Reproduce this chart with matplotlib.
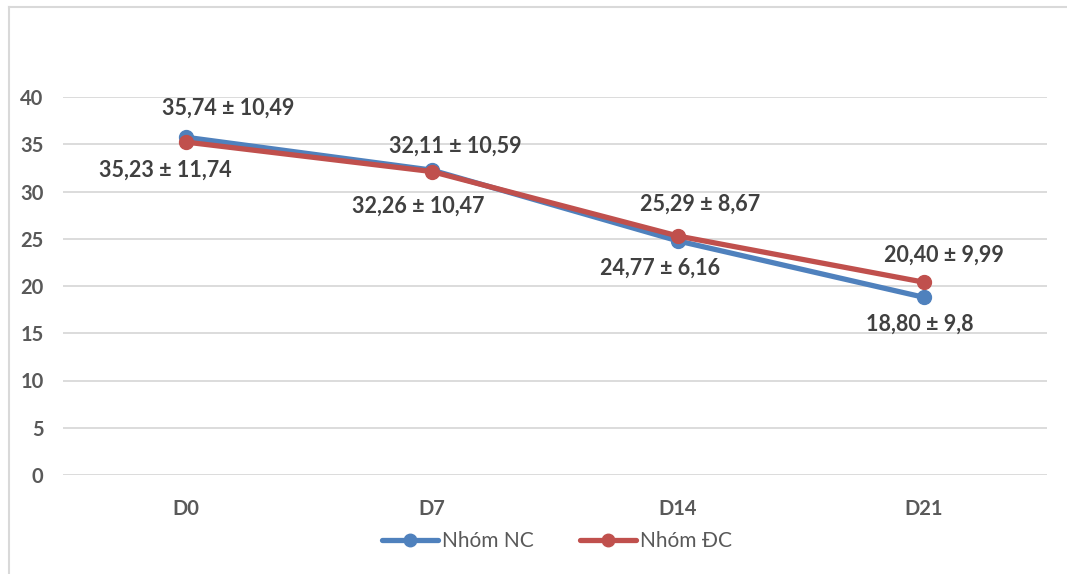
import matplotlib
matplotlib.use("Agg")
import matplotlib.pyplot as plt
from matplotlib.lines import Line2D

# Data
days = ["D0", "D7", "D14", "D21"]
nc_mean = [35.74, 32.26, 24.77, 18.80]
nc_sd = [10.49, 10.47, 6.16, 9.8]
dc_mean = [35.23, 32.11, 25.29, 20.40]
dc_sd = [11.74, 10.59, 8.67, 9.99]
series_names = ["Nhóm NC", "Nhóm ĐC"]
yticks = [0, 5, 10, 15, 20, 25, 30, 35, 40]

BLUE = "#4F81BD"
RED = "#C0504D"
TXT = "#595959"
LBL = "#404040"
GRID = "#D9D9D9"

plt.rcParams["font.family"] = ["Lato", "DejaVu Sans"]

W, H = 1067, 574
fig = plt.figure(figsize=(W / 100, H / 100), dpi=100)
fig.patch.set_facecolor("white")

# outer chart frame (top and left edges visible)
fig.add_artist(Line2D([9 / W, 9 / W], [0, 1 - 7 / H], transform=fig.transFigure,
                      color=GRID, lw=1.5))
fig.add_artist(Line2D([9 / W, 1], [1 - 7 / H, 1 - 7 / H], transform=fig.transFigure,
                      color=GRID, lw=1.5))

left, right = 63 / W, 1047 / W
bottom, top = 1 - 475 / H, 1 - 97 / H
ax = fig.add_axes([left, bottom, right - left, top - bottom])

x = list(range(len(days)))
ax.plot(x, nc_mean, color=BLUE, lw=3.8, marker="o", ms=10, solid_capstyle="round",
        label=series_names[0], zorder=3)
ax.plot(x, dc_mean, color=RED, lw=3.8, marker="o", ms=10, solid_capstyle="round",
        label=series_names[1], zorder=4)

ax.set_xlim(-0.5, len(days) - 0.5)
ax.set_ylim(0, 40)
ax.set_yticks(yticks)
ax.set_xticks(x)
ax.set_xticklabels(days)
for s in ax.spines.values():
    s.set_visible(False)
ax.grid(axis="y", color=GRID, lw=1.3, zorder=0)
ax.set_axisbelow(True)
ax.tick_params(axis="both", length=0, labelsize=14.5, colors=TXT)
ax.tick_params(axis="y", pad=14)
ax.tick_params(axis="x", pad=17)
for t in ax.get_xticklabels() + ax.get_yticklabels():
    t.set_fontweight("bold")


def fmt(v, d=2):
    return f"{v:.{d}f}".replace(".", ",")


def sdfmt(v):
    return str(v).replace(".", ",")


nc_off = [(42, 29), (-14, -36), (-18, -27), (-4, -27)]
dc_off = [(-21, -28), (23, 25), (22, 32), (20, 27)]

for i in x:
    ax.annotate(f"{fmt(nc_mean[i])} ± {sdfmt(nc_sd[i])}", (i, nc_mean[i]),
                xytext=nc_off[i], textcoords="offset pixels", ha="center", va="center",
                fontsize=15.5, fontweight="bold", color=LBL, zorder=5)
    ax.annotate(f"{fmt(dc_mean[i])} ± {sdfmt(dc_sd[i])}", (i, dc_mean[i]),
                xytext=dc_off[i], textcoords="offset pixels", ha="center", va="center",
                fontsize=15.5, fontweight="bold", color=LBL, zorder=5)

leg = fig.legend(loc="center", bbox_to_anchor=(557 / W, 1 - 541 / H), ncol=2, frameon=False,
                 fontsize=15, handlelength=2.7, handletextpad=0.2, columnspacing=2.2,
                 markerscale=0.9)
for t in leg.get_texts():
    t.set_color(TXT)

fig.savefig("out.png", dpi=100, facecolor="white")
